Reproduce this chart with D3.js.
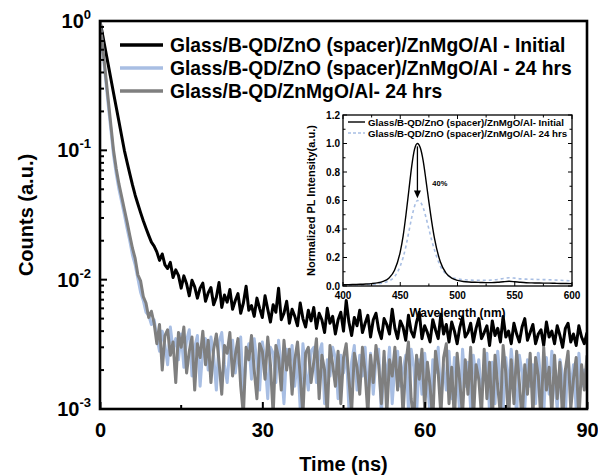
<!DOCTYPE html>
<html>
<head>
<meta charset="utf-8">
<script src="https://cdn.jsdelivr.net/npm/d3@7/dist/d3.min.js"></script>
<style>
  body { margin: 0; background: #fff; }
  text { font-family: "Liberation Sans", Arial, sans-serif; font-weight: bold; fill: #000; }
</style>
</head>
<body>
<svg id="chart" width="598" height="476"></svg>
<script>
// ---- Data ----
const timeStep = 0.5; // ns between channels
const countUnit = 1e-3; // counts below are given in units of 1e-3

const seriesNames = [
  "Glass/B-QD/ZnO (spacer)/ZnMgO/Al - Initial",
  "Glass/B-QD/ZnO (spacer)/ZnMgO/Al - 24 hrs",
  "Glass/B-QD/ZnMgO/Al- 24 hrs",
];
const seriesColors = ["#000000", "#a8bee3", "#7f7f7f"];

const countsInitial = [
  1000, 774, 599, 464, 359, 278, 215, 167, 129, 100,
  81, 66, 54, 45, 38.5, 33, 28.5, 25, 22, 19.5,
  18.2, 16.4, 14.1, 15.8, 13.0, 12.2, 13.6, 10.4, 11.9, 10.8,
  8.6, 10.7, 9.3, 7.5, 9.9, 8.8, 7.2, 8.6, 9.4, 6.8,
  7.9, 8.7, 6.4, 7.3, 9.5, 6.1, 7.6, 6.7, 8.4, 5.9,
  6.9, 7.8, 5.5, 6.6, 8.9, 5.8, 6.3, 5.2, 7.2, 6.0,
  5.1, 7.5, 5.9, 4.7, 6.4, 5.6, 8.6, 4.9, 5.5, 6.8,
  4.6, 5.9, 5.2, 4.4, 6.6, 5.0, 4.3, 5.8, 4.8, 6.1,
  4.2, 5.5, 4.9, 3.9, 6.0, 4.6, 5.2, 3.8, 4.9, 5.6,
  4.0, 6.9, 4.7, 3.7, 5.1, 4.4, 5.8, 3.9, 4.6, 5.3,
  3.6, 4.9, 5.5, 4.1, 3.5, 5.0, 4.5, 3.8, 5.9, 4.2,
  3.5, 4.8, 4.3, 3.4, 5.3, 4.0, 3.6, 4.7, 5.6, 3.5,
  4.4, 3.9, 3.3, 4.9, 4.1, 3.5, 5.4, 3.8, 4.5, 3.3,
  4.7, 4.0, 3.2, 4.3, 5.1, 3.6, 3.9, 4.6, 3.3, 4.2,
  5.0, 3.5, 3.9, 4.4, 3.1, 4.8, 3.7, 4.2, 3.3, 5.2,
  3.6, 4.0, 3.2, 4.6, 3.8, 3.3, 4.3, 5.0, 3.4, 3.9,
  4.5, 3.2, 3.8, 4.1, 3.1, 4.7, 3.6, 4.0, 3.2, 4.4,
  3.7, 3.0, 4.2, 4.6, 3.3, 3.8, 3.1, 4.4, 3.6, 3.2,
  3.9,
];

const countsSpacer24h = [
  1000, 600, 370, 230, 145, 92, 66, 50, 40, 32,
  25, 20, 15.5, 13.0, 10.2, 8.0, 6.9, 5.6, 5.3, 4.5,
  4.9, 3.6, 2.8, 4.0, 3.1, 2.2, 4.3, 2.9, 3.5, 2.4,
  3.8, 2.1, 3.4, 4.1, 1.8, 3.0, 3.7, 1.5, 2.9, 3.5,
  2.0, 3.6, 2.6, 1.4, 3.3, 3.9, 2.2, 1.6, 3.0, 3.4,
  1.9, 2.8, 3.6, 1.3, 2.5, 3.2, 1.7, 3.5, 2.3, 1.4,
  3.3, 2.4, 1.2, 3.0, 2.7, 1.6, 3.4, 2.1, 1.1, 2.9,
  2.2, 3.1, 1.5, 2.6, 1.0, 3.2, 2.0, 1.4, 2.8, 3.0,
  1.6, 2.7, 3.2, 1.1, 2.4, 1.8, 3.0, 2.5, 1.2, 2.6,
  1.9, 2.9, 1.0, 2.3, 3.1, 1.4, 2.6, 1.8, 3.0, 1.2,
  2.7, 1.3, 2.4, 2.9, 0.9, 2.5, 1.7, 3.0, 1.1, 2.2,
  2.8, 1.5, 2.0, 2.6, 1.0, 2.9, 2.1, 0.9, 2.4, 1.3,
  2.7, 1.6, 0.9, 2.4, 1.9, 3.0, 1.1, 2.2, 1.4, 2.8,
  1.2, 2.5, 1.8, 0.9, 2.9, 1.5, 2.3, 1.0, 2.6, 1.7,
  2.4, 1.3, 2.0, 2.7, 0.9, 2.3, 1.1, 2.8, 1.6, 1.0,
  2.5, 1.4, 2.9, 1.7, 0.9, 2.6, 1.9, 1.0, 2.4, 1.5,
  2.2, 1.1, 2.7, 1.6, 0.9, 2.5, 1.3, 2.8, 1.7, 1.0,
  2.4, 1.8, 0.9, 2.6, 1.4, 2.2, 1.0, 2.7, 1.5, 2.0,
  1.7,
];

const countsNoSpacer24h = [
  1000, 631, 398, 251, 158, 100, 72, 55, 44, 35,
  28, 22, 17.5, 14.6, 10.9, 9.8, 7.4, 6.6, 5.1, 5.7,
  4.6, 3.2, 4.5, 2.0, 3.7, 4.1, 2.6, 3.3, 1.6, 3.9,
  3.0, 4.3, 1.9, 2.8, 3.6, 1.4, 3.2, 2.5, 4.0, 2.2,
  3.4, 1.6, 2.9, 3.8, 2.3, 1.3, 3.1, 2.7, 3.9, 1.8,
  2.6, 3.5, 1.5, 0.9, 3.0, 2.4, 3.7, 2.0, 1.2, 3.2,
  2.8, 1.7, 3.6, 2.2, 0.9, 3.1, 2.5, 1.4, 3.4, 2.0,
  2.9, 1.3, 2.4, 3.3, 1.8, 0.9, 2.7, 3.0, 1.6, 2.3,
  3.5, 1.2, 2.6, 2.0, 0.9, 3.1, 2.2, 1.5, 2.8, 1.1,
  2.5, 3.2, 1.7, 0.95, 2.7, 2.1, 1.3, 3.0, 1.9, 0.9,
  2.6, 1.6, 3.1, 2.2, 1.1, 2.8, 0.9, 2.4, 1.8, 3.0,
  1.4, 2.5, 0.9, 2.2, 3.3, 1.2, 0.8, 2.6, 1.7, 2.9,
  1.0, 2.3, 1.5, 0.8, 2.8, 1.9, 0.9, 2.5, 3.2, 1.1,
  2.1, 0.8, 2.7, 1.6, 0.9, 2.4, 1.3, 3.0, 0.8, 2.2,
  1.7, 0.9, 2.9, 1.2, 2.3, 0.8, 2.6, 1.5, 0.9, 3.1,
  1.9, 0.8, 2.4, 1.1, 2.8, 1.6, 0.8, 2.2, 1.3, 2.7,
  0.9, 2.5, 1.8, 0.8, 3.0, 1.4, 2.1, 0.9, 2.6, 1.2,
  2.3, 0.8, 2.0, 2.8, 1.0, 1.7, 2.5, 0.8, 2.2, 1.4,
  2.6,
];

const xTickValues = [0, 30, 60, 90];
const xMinorTicks = [15, 45, 75];
const yTickValues = [1e-3, 1e-2, 1e-1, 1];
const yTickExponents = ["-3", "-2", "-1", "0"];

// Inset: steady-state PL
const insetNames = [
  "Glass/B-QD/ZnO (spacer)/ZnMgO/Al- Initial",
  "Glass/B-QD/ZnO (spacer)/ZnMgO/Al- 24 hrs",
];
const wavelengths = [
  400, 405, 410, 415, 420, 425, 430, 435, 440, 445, 450, 452.5, 455, 457.5,
  460, 462.5, 465, 467.5, 470, 472.5, 475, 477.5, 480, 485, 490, 495, 500,
  505, 510, 515, 520, 525, 530, 535, 540, 545, 550, 555, 560, 565, 570, 575,
  580, 585, 590, 595, 600,
];
const plInitial = [
  0.01, 0.01, 0.011, 0.012, 0.014, 0.017, 0.022, 0.032, 0.055, 0.11, 0.24, 0.35, 0.5, 0.67,
  0.84, 0.96, 1.0, 0.97, 0.88, 0.74, 0.59, 0.45, 0.33, 0.17, 0.09, 0.055, 0.04,
  0.032, 0.028, 0.026, 0.025, 0.024, 0.024, 0.026, 0.03, 0.033, 0.03, 0.026, 0.023, 0.022, 0.021, 0.02,
  0.02, 0.019, 0.018, 0.018, 0.017,
];
const plAged = [
  0.005, 0.006, 0.007, 0.008, 0.01, 0.012, 0.016, 0.022, 0.035, 0.065, 0.14, 0.2, 0.28, 0.38,
  0.48, 0.56, 0.6, 0.59, 0.55, 0.48, 0.4, 0.32, 0.25, 0.14, 0.085, 0.06, 0.05,
  0.045, 0.042, 0.04, 0.04, 0.04, 0.042, 0.046, 0.053, 0.058, 0.055, 0.05, 0.048, 0.047, 0.046, 0.045,
  0.044, 0.042, 0.04, 0.038, 0.036,
];
const insetYTicks = [0, 0.2, 0.4, 0.6, 0.8, 1.0, 1.2];
const insetXTicks = [400, 450, 500, 550, 600];
const dropLabel = "40%";

// ---- Main chart ----
const svg = d3.select("#chart");
const margin = { top: 21, right: 11, bottom: 67, left: 100 };
const width = +svg.attr("width") - margin.left - margin.right;
const height = +svg.attr("height") - margin.top - margin.bottom;

const x = d3.scaleLinear().domain([0, 90]).range([margin.left, margin.left + width]);
const y = d3.scaleLog().domain([1e-3, 1]).range([margin.top + height, margin.top]);

svg.append("clipPath").attr("id", "plot-clip")
  .append("rect")
  .attr("x", margin.left).attr("y", margin.top)
  .attr("width", width).attr("height", height);

const decayLine = d3.line()
  .x((d) => x(d.t))
  .y((d) => y(d.c));

const allCounts = [countsInitial, countsSpacer24h, countsNoSpacer24h];
allCounts.forEach((values, i) => {
  const pts = values.map((v, k) => ({ t: k * timeStep, c: v * countUnit }));
  svg.append("path")
    .datum(pts)
    .attr("clip-path", "url(#plot-clip)")
    .attr("fill", "none")
    .attr("stroke", seriesColors[i])
    .attr("stroke-width", 3)
    .attr("stroke-linejoin", "round")
    .attr("d", decayLine);
});

// x axis (ticks point inward)
const xAxis = svg.append("g")
  .attr("transform", `translate(0,${margin.top + height})`)
  .call(d3.axisBottom(x).tickValues(xTickValues).tickSize(-7).tickPadding(14).tickFormat(d3.format("d")));
xAxis.select(".domain").remove();
xAxis.selectAll("line").attr("stroke-width", 2);
xAxis.selectAll("text").attr("font-size", 20).attr("font-family", null);
svg.append("g").selectAll("line")
  .data(xMinorTicks).join("line")
  .attr("x1", (d) => x(d)).attr("x2", (d) => x(d))
  .attr("y1", margin.top + height).attr("y2", margin.top + height - 4)
  .attr("stroke", "#000").attr("stroke-width", 2);

// y axis
const yMinor = [];
[1e-3, 1e-2, 1e-1].forEach((dec) => d3.range(2, 10).forEach((m) => yMinor.push(dec * m)));
svg.append("g").selectAll("line")
  .data(yTickValues).join("line")
  .attr("x1", margin.left).attr("x2", margin.left + 7)
  .attr("y1", (d) => y(d)).attr("y2", (d) => y(d))
  .attr("stroke", "#000").attr("stroke-width", 2);
svg.append("g").selectAll("line")
  .data(yMinor).join("line")
  .attr("x1", margin.left).attr("x2", margin.left + 4)
  .attr("y1", (d) => y(d)).attr("y2", (d) => y(d))
  .attr("stroke", "#000").attr("stroke-width", 2);

const yLabels = svg.append("g").selectAll("text")
  .data(yTickValues).join("text")
  .attr("text-anchor", "end")
  .attr("x", margin.left - 9)
  .attr("y", (d) => y(d) + 7)
  .attr("font-size", 20);
yLabels.append("tspan").text("10");
yLabels.append("tspan")
  .attr("font-size", 13)
  .attr("dy", -9)
  .text((d, i) => yTickExponents[i]);

// frame
svg.append("rect")
  .attr("x", margin.left).attr("y", margin.top)
  .attr("width", width).attr("height", height)
  .attr("fill", "none").attr("stroke", "#000").attr("stroke-width", 2.6);

// axis titles
svg.append("text")
  .attr("x", margin.left + width / 2).attr("y", 471)
  .attr("text-anchor", "middle").attr("font-size", 20)
  .text("Time (ns)");
svg.append("text")
  .attr("transform", `translate(33,${margin.top + height / 2}) rotate(-90)`)
  .attr("text-anchor", "middle").attr("font-size", 20)
  .text("Counts (a.u.)");

// legend
const legend = svg.append("g").attr("transform", "translate(120,45)");
seriesNames.forEach((name, i) => {
  const row = legend.append("g").attr("transform", `translate(0,${i * 23})`);
  row.append("line")
    .attr("x1", 0).attr("x2", 43)
    .attr("stroke", seriesColors[i]).attr("stroke-width", 3.5);
  row.append("text")
    .attr("x", 50).attr("y", 6.8)
    .attr("font-size", 19.3)
    .text(name);
});

// ---- Inset ----
const ix = d3.scaleLinear().domain([400, 600]).range([343, 572]);
const iy = d3.scaleLinear().domain([0, 1.2]).range([286, 115]);
const inset = svg.append("g");

const plLine = d3.line()
  .x((d) => ix(d.w))
  .y((d) => iy(d.v))
  .curve(d3.curveMonotoneX);

inset.append("path")
  .datum(wavelengths.map((w, k) => ({ w, v: plAged[k] })))
  .attr("fill", "none").attr("stroke", seriesColors[1])
  .attr("stroke-width", 1.6).attr("stroke-dasharray", "3,3")
  .attr("d", plLine);
inset.append("path")
  .datum(wavelengths.map((w, k) => ({ w, v: plInitial[k] })))
  .attr("fill", "none").attr("stroke", "#000")
  .attr("stroke-width", 1.4)
  .attr("d", plLine);

// inset ticks
const insetXMinor = [425, 475, 525, 575];
[[insetXTicks, 4], [insetXMinor, 2.5]].forEach(([vals, len]) => {
  vals.forEach((v) => {
    inset.append("line").attr("x1", ix(v)).attr("x2", ix(v))
      .attr("y1", iy(0)).attr("y2", iy(0) - len).attr("stroke", "#000").attr("stroke-width", 1);
    inset.append("line").attr("x1", ix(v)).attr("x2", ix(v))
      .attr("y1", iy(1.2)).attr("y2", iy(1.2) + len).attr("stroke", "#000").attr("stroke-width", 1);
  });
});
const insetYMinor = [0.1, 0.3, 0.5, 0.7, 0.9, 1.1];
[[insetYTicks, 4], [insetYMinor, 2.5]].forEach(([vals, len]) => {
  vals.forEach((v) => {
    inset.append("line").attr("x1", ix(400)).attr("x2", ix(400) + len)
      .attr("y1", iy(v)).attr("y2", iy(v)).attr("stroke", "#000").attr("stroke-width", 1);
    inset.append("line").attr("x1", ix(600)).attr("x2", ix(600) - len)
      .attr("y1", iy(v)).attr("y2", iy(v)).attr("stroke", "#000").attr("stroke-width", 1);
  });
});

inset.selectAll(".ixl").data(insetXTicks).join("text")
  .attr("x", (d) => ix(d)).attr("y", 299)
  .attr("text-anchor", "middle").attr("font-size", 10)
  .text((d) => d);
inset.selectAll(".iyl").data(insetYTicks).join("text")
  .attr("x", ix(400) - 3).attr("y", (d) => iy(d) + 3.5)
  .attr("text-anchor", "end").attr("font-size", 10)
  .text((d) => d3.format(".1f")(d));

inset.append("rect")
  .attr("x", ix(400)).attr("y", iy(1.2))
  .attr("width", ix(600) - ix(400)).attr("height", iy(0) - iy(1.2))
  .attr("fill", "none").attr("stroke", "#000").attr("stroke-width", 1.3);

inset.append("text")
  .attr("x", ix(500)).attr("y", 317)
  .attr("text-anchor", "middle").attr("font-size", 12)
  .text("Wavelength (nm)");
inset.append("text")
  .attr("transform", `translate(315,${(iy(0) + iy(1.2)) / 2}) rotate(-90)`)
  .attr("text-anchor", "middle").attr("font-size", 11)
  .text("Normalized PL Intensity(a.u.)");

// arrow showing the drop in PL
const arrowX = ix(465);
inset.append("line")
  .attr("x1", arrowX).attr("x2", arrowX)
  .attr("y1", iy(0.98)).attr("y2", iy(0.66))
  .attr("stroke", "#000").attr("stroke-width", 1.3);
inset.append("path")
  .attr("d", `M${arrowX - 3.5},${iy(0.67)} L${arrowX + 3.5},${iy(0.67)} L${arrowX},${iy(0.615)} Z`)
  .attr("fill", "#000");
inset.append("text")
  .attr("x", ix(478)).attr("y", iy(0.72) + 3)
  .attr("font-size", 7.5)
  .text(dropLabel);

// inset legend
insetNames.forEach((name, i) => {
  const yy = 122 + i * 11;
  inset.append("line")
    .attr("x1", 348).attr("x2", 365).attr("y1", yy).attr("y2", yy)
    .attr("stroke", i === 0 ? "#000" : seriesColors[1])
    .attr("stroke-width", 1.4)
    .attr("stroke-dasharray", i === 0 ? null : "3,2");
  inset.append("text")
    .attr("x", 368).attr("y", yy + 3.5)
    .attr("font-size", 9.7)
    .text(name);
});
</script>
</body>
</html>
